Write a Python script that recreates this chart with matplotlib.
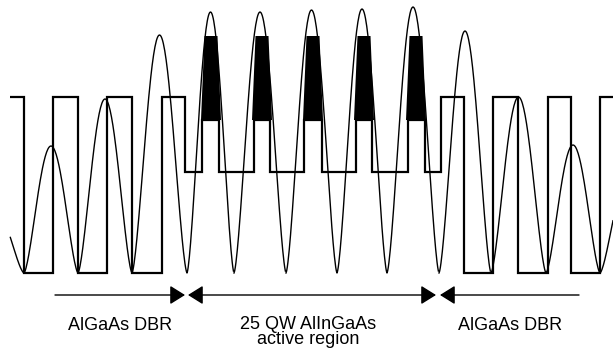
import numpy as np
import matplotlib
matplotlib.use('Agg')
import matplotlib.pyplot as plt

# step profile (pixel coords of the drawing, y grows downward)
edges = [10, 24, 53, 78, 107, 132, 162, 185, 202, 219, 254, 270, 304, 322,
         356, 372, 408, 425, 441, 464, 493, 518, 548, 571, 600, 613]
levels = [97, 273, 97, 273, 97, 273, 97, 172, 120, 172, 120, 172, 120, 172,
          120, 172, 120, 172, 97, 273, 97, 273, 97, 273, 97]

# standing wave: nodes and the peak of each lobe
base = 273
nodes = [-30, 24, 78, 132, 187, 234, 286, 337, 387, 439, 491, 546, 600, 654]
peaks = [214, 146, 99, 35, 12, 12, 10, 9, 7, 31, 97, 145, 181]

# quantum wells (black blocks)
qw_x = [211, 262, 313, 364, 416]
qw_top, qw_bot = 36, 120

labels = ['AlGaAs DBR', '25 QW AlInGaAs\nactive region', 'AlGaAs DBR']
label_x = [120, 308, 510]
label_y = [330, 344, 330]

fig = plt.figure(figsize=(6.13, 3.52), dpi=100)
ax = fig.add_axes([0, 0, 1, 1])
ax.set_xlim(0, 613)
ax.set_ylim(352, 0)
ax.axis('off')

for c in qw_x:
    ax.fill([c - 6.5, c + 6.5, c + 10, c - 10], [qw_top, qw_top, qw_bot, qw_bot],
            color='black', lw=0)

ax.stairs(levels, edges, baseline=None, color='black', lw=1.6)

xs, ys = [], []
for i in range(len(peaks)):
    a, b = nodes[i], nodes[i + 1]
    x = np.linspace(a, b, 80)
    y = base - (base - peaks[i]) * np.sin(np.pi * (x - a) / (b - a)) ** 1.5
    xs.append(x)
    ys.append(y)
xs = np.concatenate(xs)
ys = np.concatenate(ys)
keep = (xs >= 10) & (xs <= 613)
ax.plot(xs[keep], ys[keep], color='black', lw=1.0)

arr = dict(arrowstyle='-|>,head_length=0.4,head_width=0.25', mutation_scale=23,
           color='black', lw=1.0, shrinkA=0, shrinkB=0)
arr2 = dict(arr, arrowstyle='<|-|>,head_length=0.4,head_width=0.25')
ax.annotate('', xy=(185, 295), xytext=(55, 295), arrowprops=arr)
ax.annotate('', xy=(436, 295), xytext=(188, 295), arrowprops=arr2)
ax.annotate('', xy=(440, 295), xytext=(579, 295), arrowprops=arr)

for s, x, y in zip(labels, label_x, label_y):
    ax.text(x, y, s, ha='center', va='baseline', fontsize=13,
            family='Liberation Sans', linespacing=0.85, multialignment='center')

plt.savefig('out.png', dpi=100)
